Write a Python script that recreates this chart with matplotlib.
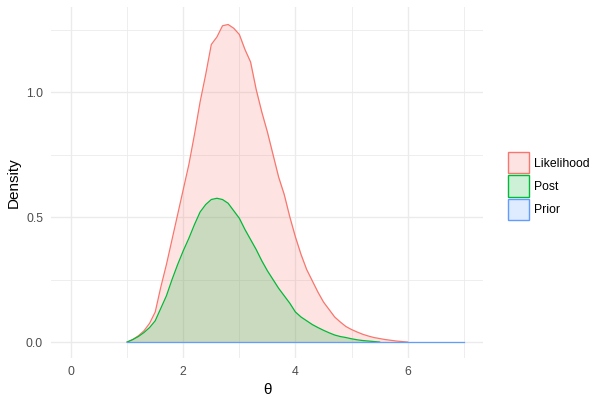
import numpy as np
import matplotlib
matplotlib.use("Agg")
from matplotlib import pyplot as plt
from matplotlib.patches import Patch

plt.rcParams['font.family'] = ['Liberation Sans', 'DejaVu Sans']

# valores (passo 0.1)
theta = [round(1.0 + 0.1 * i, 1) for i in range(51)]
likelihood = [0.0, 0.01, 0.025, 0.045, 0.075, 0.12, 0.22, 0.31, 0.41, 0.51,
              0.61, 0.71, 0.83, 0.96, 1.07, 1.19, 1.22, 1.265, 1.27, 1.255,
              1.23, 1.17, 1.12, 1.01, 0.92, 0.84, 0.75, 0.66, 0.59, 0.50,
              0.42, 0.35, 0.29, 0.245, 0.20, 0.16, 0.13, 0.10, 0.08, 0.062,
              0.05, 0.04, 0.031, 0.024, 0.018, 0.014, 0.010, 0.007, 0.004, 0.002,
              0.0]
post = [0.0, 0.01, 0.022, 0.038, 0.058, 0.085, 0.135, 0.185, 0.25, 0.31,
        0.365, 0.415, 0.47, 0.52, 0.55, 0.57, 0.575, 0.57, 0.555, 0.525,
        0.495, 0.45, 0.41, 0.37, 0.325, 0.285, 0.25, 0.215, 0.185, 0.155,
        0.12, 0.10, 0.085, 0.07, 0.058, 0.047, 0.037, 0.028, 0.022, 0.018,
        0.013, 0.009, 0.006, 0.004, 0.002, 0.0]
theta_post = theta[:len(post)]
theta_prior = [1.0, 7.0]
prior = [0.0, 0.0]

series = ["Likelihood", "Post", "Prior"]
cores = {"Likelihood": "#F8766D", "Post": "#00BA38", "Prior": "#619CFF"}

fig = plt.figure(figsize=(6.05, 4), dpi=100)
ax = fig.add_axes([0.085, 0.105, 0.714, 0.8775])

dados = {"Likelihood": (theta, likelihood),
         "Post": (theta_post, post),
         "Prior": (theta_prior, prior)}
for nome in series:
    x, y = dados[nome]
    ax.fill_between(x, y, 0, color=cores[nome], alpha=0.2, linewidth=0)
    ax.plot(x, y, color=cores[nome], linewidth=0.9)

ax.set_xlim(-0.35, 7.35)
ax.set_ylim(-0.0638, 1.34)
ax.set_xticks([0, 2, 4, 6])
ax.set_yticks([0.0, 0.5, 1.0])
ax.set_yticklabels(["0.0", "0.5", "1.0"])
ax.set_xticks([1, 3, 5, 7], minor=True)
ax.set_yticks([0.25, 0.75, 1.25], minor=True)
ax.grid(which="major", color="#EBEBEB", linewidth=1.0)
ax.grid(which="minor", color="#EBEBEB", linewidth=0.6)
ax.set_axisbelow(True)
for s in ax.spines.values():
    s.set_visible(False)
ax.tick_params(which="both", length=0, labelsize=8.8, labelcolor="#4D4D4D", pad=6)
ax.set_xlabel("θ", fontsize=11, labelpad=3)
ax.set_ylabel("Density", fontsize=11, labelpad=4)

handles = [Patch(facecolor=matplotlib.colors.to_rgba(cores[n], 0.2),
                 edgecolor=cores[n], linewidth=1.0) for n in series]
fig.legend(handles, series, loc="center left", bbox_to_anchor=(0.83, 0.535),
           frameon=False, fontsize=8.8, handlelength=1.72, handleheight=2.27,
           handletextpad=0.35, labelspacing=0.165, borderpad=0)

fig.savefig("out.png", dpi=100)
